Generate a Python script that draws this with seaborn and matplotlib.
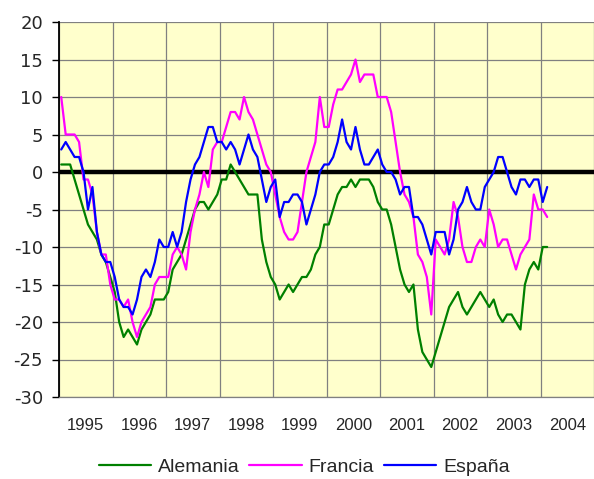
import numpy as np
import pandas as pd
import matplotlib
matplotlib.use("Agg")
import matplotlib.pyplot as plt
import seaborn as sns

# ---- data (monthly values) ----
anios = [1995, 1996, 1997, 1998, 1999, 2000, 2001, 2002, 2003, 2004]
y_ticks = [-30, -25, -20, -15, -10, -5, 0, 5, 10, 15, 20]

alemania = [1, 1, 1, -1, -3, -5, -7, -8, -9, -11,
            -12, -14, -16, -20, -22, -21, -22, -23, -21, -20,
            -19, -17, -17, -17, -16, -13, -12, -11, -9, -7,
            -5, -4, -4, -5, -4, -3, -1, -1, 1, 0,
            -1, -2, -3, -3, -3, -9, -12, -14, -15, -17,
            -16, -15, -16, -15, -14, -14, -13, -11, -10, -7,
            -7, -5, -3, -2, -2, -1, -2, -1, -1, -1,
            -2, -4, -5, -5, -7, -10, -13, -15, -16, -15,
            -21, -24, -25, -26, -24, -22, -20, -18, -17, -16,
            -18, -19, -18, -17, -16, -17, -18, -17, -19, -20,
            -19, -19, -20, -21, -15, -13, -12, -13, -10, -10]

francia = [10, 5, 5, 5, 4, -1, -1, -3, -8, -11,
           -11, -15, -17, -17, -18, -17, -20, -22, -20, -19,
           -18, -15, -14, -14, -14, -11, -10, -11, -13, -8,
           -5, -3, 0, -2, 3, 4, 4, 6, 8, 8,
           7, 10, 8, 7, 5, 3, 1, 0, -3, -6,
           -8, -9, -9, -8, -4, 0, 2, 4, 10, 6,
           6, 9, 11, 11, 12, 13, 15, 12, 13, 13,
           13, 10, 10, 10, 8, 4, 0, -3, -4, -6,
           -11, -12, -14, -19, -9, -10, -11, -9, -4, -6,
           -10, -12, -12, -10, -9, -10, -5, -7, -10, -9,
           -9, -11, -13, -11, -10, -9, -3, -5, -5, -6]

espana = [3, 4, 3, 2, 2, 0, -5, -2, -8, -11,
          -12, -12, -14, -17, -18, -18, -19, -17, -14, -13,
          -14, -12, -9, -10, -10, -8, -10, -8, -4, -1,
          1, 2, 4, 6, 6, 4, 4, 3, 4, 3,
          1, 3, 5, 3, 2, -1, -4, -2, -1, -6,
          -4, -4, -3, -3, -4, -7, -5, -3, 0, 1,
          1, 2, 4, 7, 4, 3, 6, 3, 1, 1,
          2, 3, 1, 0, 0, -1, -3, -2, -2, -6,
          -6, -7, -9, -11, -8, -8, -8, -11, -9, -5,
          -4, -2, -4, -5, -5, -2, -1, 0, 2, 2,
          0, -2, -3, -1, -1, -2, -1, -1, -4, -2]

series = {"Alemania": alemania, "Francia": francia, "España": espana}
colores = {"Alemania": "#008000", "Francia": "#FF00FF", "España": "#0000FF"}

meses = np.arange(len(alemania))
frames = []
for nombre, vals in series.items():
    frames.append(pd.DataFrame({"t": (meses + 0.5) / 12.0,
                                "valor": vals, "pais": nombre}))
df = pd.concat(frames, ignore_index=True)

# ---- style ----
sns.set_style("white")
plt.rcParams["font.family"] = ["Liberation Sans", "DejaVu Sans"]

fig = plt.figure(figsize=(5.94, 4.79), dpi=100)
ax = fig.add_axes([59 / 594, 1 - 397 / 479, (594 - 59) / 594, 375 / 479])
ax.set_facecolor("#FFFFCC")

ax.axhline(0, color="black", lw=3.2, zorder=2)

sns.lineplot(data=df, x="t", y="valor", hue="pais", palette=colores,
             linewidth=1.6, ax=ax, zorder=3, estimator=None, sort=False)

ax.set_xlim(0, len(anios))
ax.set_ylim(min(y_ticks), max(y_ticks))
ax.set_yticks(y_ticks)
ax.set_yticklabels([str(v) for v in y_ticks], fontsize=13,
                   family=["DejaVu Sans"])
ax.set_xticks(np.arange(0, len(anios) + 1))
ax.set_xticklabels([])
ax.set_xticks(np.arange(len(anios)) + 0.5, minor=True)
ax.set_xticklabels([str(a) for a in anios], minor=True, fontsize=12)
ax.tick_params(axis="x", which="both", length=0)
ax.tick_params(axis="x", which="minor", pad=15)
ax.tick_params(axis="y", which="major", length=5, width=1, color="black",
               direction="out", pad=6.5, left=True)

ax.grid(True, which="major", color="#808080", lw=0.9, zorder=1)
ax.set_axisbelow(True)
ax.set_xlabel("")
ax.set_ylabel("")

for s in ["top", "right"]:
    ax.spines[s].set_visible(False)
ax.spines["bottom"].set_color("#808080")
ax.spines["bottom"].set_linewidth(0.9)
ax.spines["left"].set_color("black")
ax.spines["left"].set_linewidth(1.3)

handles, labels = ax.get_legend_handles_labels()
ax.get_legend().remove()
fig.legend(handles, labels, loc="center", bbox_to_anchor=(0.512, 0.025),
           ncol=3, frameon=False, fontsize=14, handlelength=2.7,
           handletextpad=0.35, columnspacing=0.5)

fig.savefig("out.png", dpi=100)
